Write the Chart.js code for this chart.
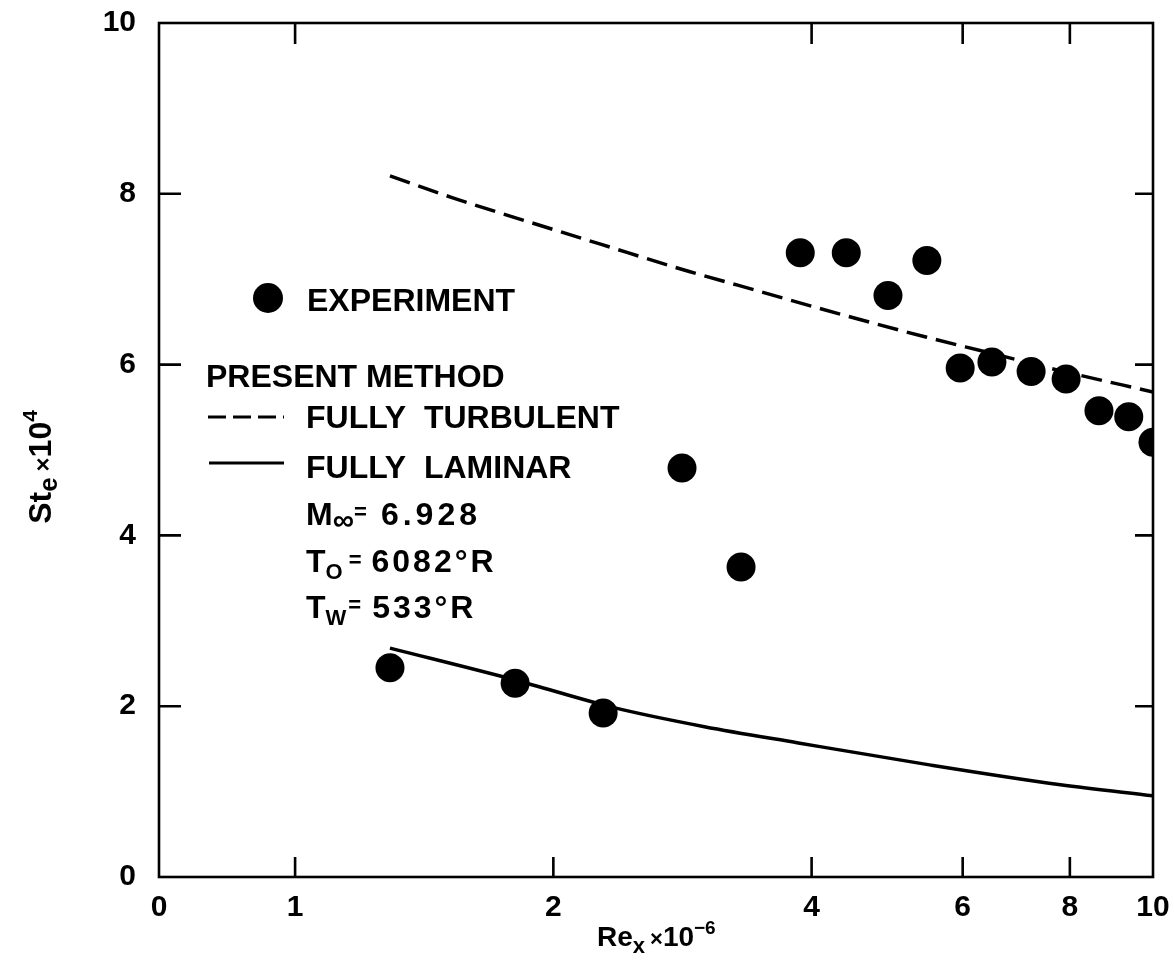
<!DOCTYPE html>
<html><head><meta charset="utf-8">
<script src="https://cdn.jsdelivr.net/npm/chart.js@4"></script>
<style>html,body{margin:0;padding:0;background:#fff}canvas{display:block}</style>
</head><body>
<canvas id="c" width="1174" height="966"></canvas>
<script>
// ---- data ----
const expRe = [1.29, 1.805, 2.286, 2.825, 3.31, 3.88, 4.39, 4.91, 5.45, 5.96, 6.49, 7.21, 7.92, 8.65, 9.37, 10.0];
const expSt = [2.45, 2.27, 1.92, 4.79, 3.63, 7.31, 7.31, 6.81, 7.22, 5.96, 6.03, 5.92, 5.83, 5.46, 5.39, 5.09];
const turbRe = [1.29, 1.53, 1.86, 2.27, 2.88, 3.28, 4.32, 5.45, 6.50, 7.79, 10.0];
const turbSt = [8.21, 7.95, 7.68, 7.41, 7.09, 6.93, 6.59, 6.32, 6.13, 5.93, 5.68];
const lamRe = [1.29, 1.80, 2.36, 3.0, 3.86, 5.51, 7.80, 10.0];
const lamSt = [2.68, 2.31, 1.98, 1.76, 1.57, 1.31, 1.08, 0.95];
const xTickValues = [0.694, 1, 2, 4, 6, 8, 10];
const xTickLabels = ['0', '1', '2', '4', '6', '8', '10'];
const xTopTickValues = [1, 4, 6, 8];
const yTickValues = [0, 2, 4, 6, 8, 10];

const FONT = '"Liberation Sans", Arial, sans-serif';
const toXY = (xs, ys) => xs.map((x, i) => ({x, y: ys[i]}));

function setRun(ctx, r) {
  ctx.font = `bold ${r.size}px ${FONT}`;
  if ('letterSpacing' in ctx) ctx.letterSpacing = (r.ls || 0) + 'px';
}
function drawRuns(ctx, x, y, runs) {
  let cx = x;
  runs.forEach(r => {
    setRun(ctx, r);
    ctx.fillText(r.t, cx, y + (r.dy || 0));
    cx += ctx.measureText(r.t).width + (r.gap || 0);
  });
  if ('letterSpacing' in ctx) ctx.letterSpacing = '0px';
  return cx - x;
}
function runsWidth(ctx, runs) {
  let w = 0;
  runs.forEach(r => { setRun(ctx, r); w += ctx.measureText(r.t).width + (r.gap || 0); });
  if ('letterSpacing' in ctx) ctx.letterSpacing = '0px';
  return w;
}

const framePlugin = {
  id: 'frame',
  afterDatasetsDraw(chart) {
    const {ctx, chartArea: a, scales: {x, y}} = chart;
    ctx.save();
    ctx.strokeStyle = '#000';
    ctx.lineWidth = 2.6;
    ctx.strokeRect(a.left, a.top, a.right - a.left, a.bottom - a.top);
    ctx.beginPath();
    xTickValues.forEach(v => {
      if (v <= x.min || v >= x.max) return;
      const px = x.getPixelForValue(v);
      ctx.moveTo(px, a.bottom); ctx.lineTo(px, a.bottom - 20);
    });
    xTopTickValues.forEach(v => {
      const px = x.getPixelForValue(v);
      ctx.moveTo(px, a.top); ctx.lineTo(px, a.top + 21);
    });
    yTickValues.forEach(v => {
      if (v <= y.min || v >= y.max) return;
      const py = y.getPixelForValue(v);
      ctx.moveTo(a.left, py); ctx.lineTo(a.left + 22, py);
      ctx.moveTo(a.right, py); ctx.lineTo(a.right - 18, py);
    });
    ctx.stroke();
    ctx.restore();
  },
  afterDraw(chart) {
    const ctx = chart.ctx;
    ctx.save();
    ctx.fillStyle = '#000';
    ctx.strokeStyle = '#000';
    ctx.textBaseline = 'alphabetic';
    ctx.textAlign = 'left';
    // legend block
    ctx.beginPath(); ctx.arc(268, 298, 15, 0, Math.PI * 2); ctx.fill();
    drawRuns(ctx, 307, 311, [{t: 'EXPERIMENT', size: 32}]);
    drawRuns(ctx, 206, 387, [{t: 'PRESENT METHOD', size: 32}]);
    ctx.lineWidth = 3.2;
    ctx.setLineDash([18, 7]);
    ctx.beginPath(); ctx.moveTo(208, 417); ctx.lineTo(284, 417); ctx.stroke();
    ctx.setLineDash([]);
    ctx.beginPath(); ctx.moveTo(209, 463); ctx.lineTo(284, 463); ctx.stroke();
    drawRuns(ctx, 306, 428, [{t: 'FULLY  TURBULENT', size: 32}]);
    drawRuns(ctx, 306, 478, [{t: 'FULLY  LAMINAR', size: 32}]);
    drawRuns(ctx, 306, 525, [{t: 'M', size: 32}, {t: '\u221E', size: 30, dy: 5}, {t: '=', size: 22, dy: -6, gap: 14}, {t: '6.928', size: 32, ls: 4}]);
    drawRuns(ctx, 306, 572, [{t: 'T', size: 32}, {t: 'O', size: 22, dy: 7, gap: 6}, {t: '=', size: 22, dy: -5, gap: 10}, {t: '6082\u00B0R', size: 32, ls: 3}]);
    drawRuns(ctx, 306, 618, [{t: 'T', size: 32}, {t: 'W', size: 22, dy: 7, gap: 2}, {t: '=', size: 22, dy: -6, gap: 11}, {t: '533\u00B0R', size: 32, ls: 3}]);
    // x axis title
    drawRuns(ctx, 597, 946, [{t: 'Re', size: 28}, {t: 'x', size: 22, dy: 7, gap: 5}, {t: '\u00D7', size: 22}, {t: '10', size: 28}, {t: '\u22126', size: 19, dy: -12}]);
    // y axis title (rotated)
    const yRuns = [{t: 'St', size: 32}, {t: 'e', size: 26, dy: 6, gap: 6}, {t: '\u00D7', size: 24}, {t: '10', size: 32}, {t: '4', size: 21, dy: -14}];
    const w = runsWidth(ctx, yRuns);
    ctx.translate(51, 467);
    ctx.rotate(-Math.PI / 2);
    drawRuns(ctx, -w / 2, 0, yRuns);
    ctx.restore();
  }
};

new Chart(document.getElementById('c'), {
  type: 'scatter',
  data: {
    datasets: [
      {label: 'EXPERIMENT', data: toXY(expRe, expSt), pointRadius: 14.5, pointHoverRadius: 14.5,
       backgroundColor: '#000', borderWidth: 0, showLine: false, clip: 0},
      {label: 'FULLY TURBULENT', data: toXY(turbRe, turbSt), showLine: true, pointRadius: 0,
       borderColor: '#000', borderWidth: 3.5, borderDash: [21, 9], cubicInterpolationMode: 'monotone', fill: false},
      {label: 'FULLY LAMINAR', data: toXY(lamRe, lamSt), showLine: true, pointRadius: 0,
       borderColor: '#000', borderWidth: 3.5, cubicInterpolationMode: 'monotone', fill: false}
    ]
  },
  options: {
    responsive: false,
    animation: false,
    events: [],
    layout: {padding: {top: 23, right: 21, left: 0, bottom: 0}},
    plugins: {legend: {display: false}, tooltip: {enabled: false}},
    scales: {
      x: {
        type: 'logarithmic', min: xTickValues[0], max: 10, position: 'bottom',
        grid: {display: false, drawTicks: false}, border: {display: false},
        afterBuildTicks: s => { s.ticks = xTickValues.map(v => ({value: v})); },
        afterFit: s => { s.height = 89; s.paddingLeft = 0; s.paddingRight = 0; },
        ticks: {autoSkip: false, maxRotation: 0, padding: 13, color: '#000',
          font: {family: FONT, size: 30, weight: 'bold'},
          callback: (v) => { const i = xTickValues.indexOf(v); return i >= 0 ? xTickLabels[i] : ''; }}
      },
      y: {
        type: 'linear', min: 0, max: 10, position: 'left',
        grid: {display: false, drawTicks: false}, border: {display: false},
        afterBuildTicks: s => { s.ticks = yTickValues.map(v => ({value: v})); },
        afterFit: s => { s.width = 159; s.paddingTop = 0; s.paddingBottom = 0; },
        ticks: {padding: 23, color: '#000', font: {family: FONT, size: 30, weight: 'bold'}}
      }
    }
  },
  plugins: [framePlugin]
});
</script>
</body></html>
